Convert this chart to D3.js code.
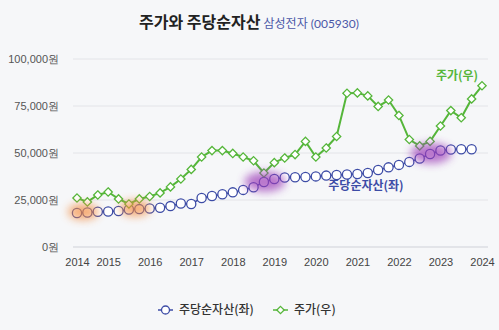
<!DOCTYPE html>
<html>
<head>
<meta charset="utf-8">
<script src="https://cdn.jsdelivr.net/npm/d3@7"></script>
<style>
  body { margin: 0; background: #f6f7f9; }
  svg { display: block; font-family: "Lato", "Noto Sans CJK KR", sans-serif; }
</style>
</head>
<body>
<svg id="chart" width="499" height="330"></svg>
<script>
// quarters, 2014 Q2 .. 2024 Q1
var quarters = [
  "2014Q2","2014Q3","2014Q4","2015Q1","2015Q2","2015Q3","2015Q4","2016Q1",
  "2016Q2","2016Q3","2016Q4","2017Q1","2017Q2","2017Q3","2017Q4","2018Q1",
  "2018Q2","2018Q3","2018Q4","2019Q1","2019Q2","2019Q3","2019Q4","2020Q1",
  "2020Q2","2020Q3","2020Q4","2021Q1","2021Q2","2021Q3","2021Q4","2022Q1",
  "2022Q2","2022Q3","2022Q4","2023Q1","2023Q2","2023Q3","2023Q4","2024Q1"
];
var tickQuarters = ["2014Q2","2015Q1","2016Q1","2017Q1","2018Q1","2019Q1","2020Q1","2021Q1","2022Q1","2023Q1","2024Q1"];
var tickLabels   = ["2014","2015","2016","2017","2018","2019","2020","2021","2022","2023","2024"];
var yTicks = [0, 25000, 50000, 75000, 100000];

// 주당순자산 (BPS, left axis) - no value for last quarter
var bps = [
  17800, 18100, 18500, 18600, 18900, 19700, 19900, 20200, 20600, 21500,
  22900, 22600, 25800, 26900, 27800, 28800, 30100, 31500, 34300, 35900,
  36700, 36800, 37000, 37300, 37700, 38000, 38300, 38600, 39100, 40700,
  42100, 43400, 45000, 46800, 49200, 51100, 51600, 51700, 51700
];
// 주가 (price, right axis)
var price = [
  25800, 23700, 27400, 29000, 25300, 22600, 25300, 26600, 28500, 31700,
  35900, 41000, 47600, 51000, 51000, 49500, 47600, 45600, 39100, 44600,
  47100, 48900, 55900, 47600, 52400, 58500, 81500, 81700, 80100, 74500,
  77900, 69700, 56900, 53500, 55900, 64100, 72300, 68500, 78500, 85500
];
// highlighted quarter ranges (index from..to)
var orangeRanges = [[0, 1], [5, 6]];
var purpleRanges = [[17, 19], [33, 35]];

var blue = "#3d4ca6", green = "#55b63a";

var svg = d3.select("#chart");
var defs = svg.append("defs");
defs.append("filter").attr("id", "blur")
  .attr("x", "-50%").attr("y", "-50%").attr("width", "200%").attr("height", "200%")
  .append("feGaussianBlur").attr("stdDeviation", 4);

var x = d3.scalePoint().domain(quarters).range([77, 482]);
var y = d3.scaleLinear().domain([0, 100000]).range([246.5, 58.5]);
var yR = d3.scaleLinear().domain([0, 100000]).range([246.5, 58.5]);

// title
var title = svg.append("text").attr("x", 249).attr("y", 28).attr("text-anchor", "middle");
title.append("tspan").text("주가와 주당순자산")
  .style("font-size", "16px").style("font-weight", "bold").attr("fill", "#222")
  .style("font-family", "Noto Sans CJK KR");
title.append("tspan").text(" 삼성전자 (005930)")
  .style("font-size", "12px").attr("fill", "#4b57a8");

// y axis + grid
var yAxis = svg.append("g").attr("transform", "translate(73,0)")
  .call(d3.axisLeft(y).tickValues(yTicks).tickSize(-415).tickPadding(14)
    .tickFormat(function (d) { return d3.format(",")(d) + "원"; }));
yAxis.select(".domain").remove();
yAxis.selectAll("line").attr("stroke", "#e3e4e8");
yAxis.selectAll("line").filter(function (d) { return d === 0; }).attr("stroke", "#cfd1d8");
yAxis.selectAll("text").attr("fill", "#555").style("font-size", "11px");

// x axis labels
var xAxis = svg.append("g").attr("transform", "translate(0,246.5)")
  .call(d3.axisBottom(x).tickValues(tickQuarters).tickSize(0).tickPadding(12)
    .tickFormat(function (d) { return tickLabels[tickQuarters.indexOf(d)]; }));
xAxis.select(".domain").remove();
xAxis.selectAll("text").attr("fill", "#444").style("font-size", "11px");

// lines
var bpsLine = d3.line().x(function (d, i) { return x(quarters[i]); }).y(function (d) { return y(d); });
var priceLine = d3.line().x(function (d, i) { return x(quarters[i]); }).y(function (d) { return yR(d); });

svg.append("path").datum(bps).attr("d", bpsLine)
  .attr("fill", "none").attr("stroke", blue).attr("stroke-width", 1.5);
svg.selectAll(".bpsDot").data(bps).enter().append("circle")
  .attr("cx", function (d, i) { return x(quarters[i]); })
  .attr("cy", function (d) { return y(d); })
  .attr("r", 4.6).attr("fill", "#fff").attr("stroke", blue).attr("stroke-width", 1.3);

svg.append("path").datum(price).attr("d", priceLine)
  .attr("fill", "none").attr("stroke", green).attr("stroke-width", 2);
var diamond = d3.symbol().type(d3.symbolDiamond2).size(44);
svg.selectAll(".priceDot").data(price).enter().append("path")
  .attr("d", diamond)
  .attr("transform", function (d, i) { return "translate(" + x(quarters[i]) + "," + yR(d) + ")"; })
  .attr("fill", "#fff").attr("stroke", green).attr("stroke-width", 1.3);

// highlight blobs
function blob(r, color, ry) {
  var idx = d3.range(r[0], r[1] + 1);
  var x0 = x(quarters[r[0]]), x1 = x(quarters[r[1]]);
  var cy = d3.mean(idx, function (i) { return y(bps[i]); });
  svg.append("ellipse")
    .attr("cx", (x0 + x1) / 2 + 1).attr("cy", cy - 1)
    .attr("rx", (x1 - x0) / 2 + 10).attr("ry", ry)
    .attr("fill", color).attr("opacity", 0.7).attr("filter", "url(#blur)");
}
orangeRanges.forEach(function (r) { blob(r, "#f28a3c", 8); });
purpleRanges.forEach(function (r) { blob(r, "#9c3db8", 10); });

// series labels
svg.append("text").attr("x", 457).attr("y", 80).attr("text-anchor", "middle")
  .style("font-family", "Noto Sans CJK KR").style("font-size", "12px").style("font-weight", "bold")
  .attr("fill", green).text("주가(우)");
svg.append("text").attr("x", 366).attr("y", 190).attr("text-anchor", "middle")
  .style("font-family", "Noto Sans CJK KR").style("font-size", "12px").style("font-weight", "bold")
  .attr("fill", blue).text("주당순자산(좌)");

// legend
var legend = [
  { name: "주당순자산(좌)", color: blue, sym: "circle", x: 158 },
  { name: "주가(우)", color: green, sym: "diamond", x: 273 }
];
legend.forEach(function (l) {
  var g = svg.append("g").attr("transform", "translate(" + l.x + ",310)");
  g.append("line").attr("x1", 0).attr("x2", 15).attr("stroke", l.color).attr("stroke-width", 1.5);
  if (l.sym === "circle") {
    g.append("circle").attr("cx", 7.5).attr("r", 4).attr("fill", "#fff").attr("stroke", l.color).attr("stroke-width", 1.3);
  } else {
    g.append("path").attr("d", d3.symbol().type(d3.symbolDiamond2).size(34)).attr("transform", "translate(7.5,0)")
      .attr("fill", "#fff").attr("stroke", l.color).attr("stroke-width", 1.3);
  }
  g.append("text").attr("x", 21).attr("dy", "0.35em")
    .style("font-family", "Noto Sans CJK KR").style("font-size", "12px").style("font-weight", "500")
    .attr("fill", "#333").text(l.name);
});
</script>
</body>
</html>
